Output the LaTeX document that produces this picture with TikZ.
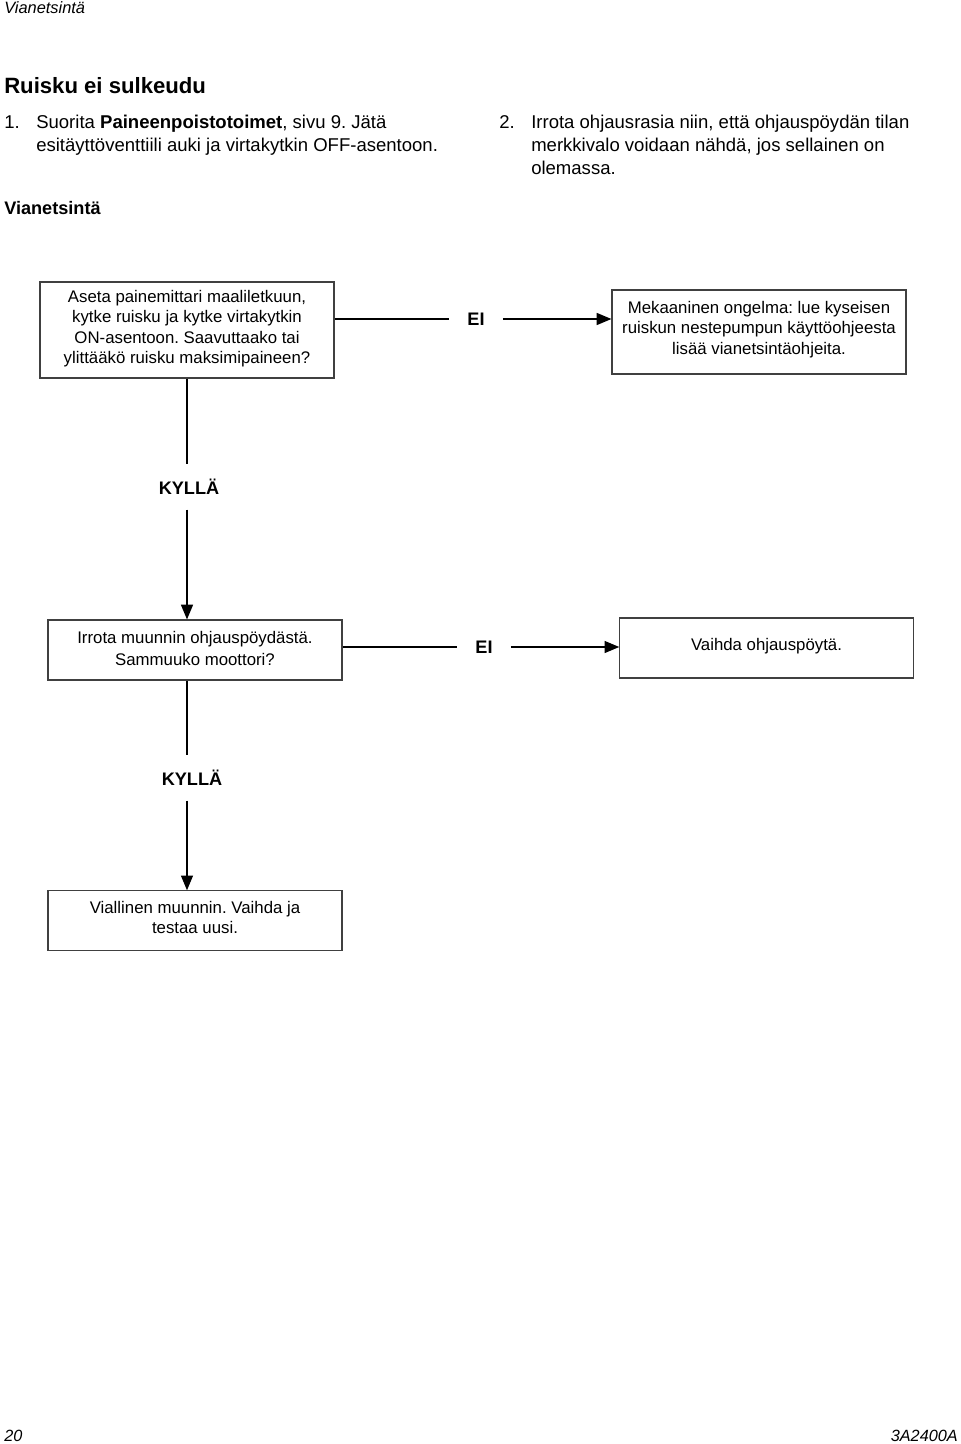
\documentclass[tikz,border=0pt]{standalone}
\usepackage{fontspec}
\setmainfont{Liberation Sans}
\usetikzlibrary{arrows.meta}
\frenchspacing
\begin{document}
\begin{tikzpicture}[x=0.75pt,y=-0.75pt,
  box/.style={draw=black!75, line width=0.9pt, align=center, font=\fontsize{12.6}{15.4}\selectfont, inner sep=0pt},
  conn/.style={line width=0.9pt, black},
  arr/.style={conn, -{Triangle[length=11pt,width=9pt]}},
  lab/.style={font=\fontsize{13.6}{15}\selectfont\bfseries, inner xsep=13.5pt, inner ysep=11pt},
  body/.style={font=\fontsize{13.9}{17.25}\selectfont, align=left, inner sep=0pt, anchor=base west}]
\useasboundingbox (0,0) rectangle (960,1444);

% header / footer
\node[anchor=base west, inner sep=0pt, font=\fontsize{12.3}{14}\selectfont\itshape] (hdr) at (4,14) {Vianetsintä};
\node[anchor=base west, inner sep=0pt, font=\fontsize{12.2}{14}\selectfont\itshape] (pg) at (4,1441) {20};
\node[anchor=base east, inner sep=0pt, font=\fontsize{12.2}{14}\selectfont\itshape] (doc) at (958,1441) {3A2400A};

% title and instructions
\node[anchor=base west, inner sep=0pt, font=\fontsize{16.6}{18}\selectfont\bfseries] (title) at (4,94) {Ruisku ei sulkeudu};
\node[body] (n1) at (4,128.5) {1.};
\node[body, anchor=north west] (t1) at (36,115) {Suorita \textbf{Paineenpoistotoimet}, sivu 9. Jätä\\esitäyttöventtiili auki ja virtakytkin OFF-asentoon.};
\node[body] (n2) at (499,128.5) {2.};
\node[body, anchor=north west] (t2) at (531,115) {Irrota ohjausrasia niin, että ohjauspöydän tilan\\merkkivalo voidaan nähdä, jos sellainen on\\olemassa.};
\node[anchor=base west, inner sep=0pt, font=\fontsize{13.6}{16}\selectfont\bfseries] (sub) at (4,215) {Vianetsintä};

% boxes
\node[box, minimum width=220.5pt, minimum height=72pt, text depth=4.9pt] (b1) at (187,330) {Aseta painemittari maaliletkuun,\\kytke ruisku ja kytke virtakytkin\\ON-asentoon. Saavuttaako tai\\ylittääkö ruisku maksimipaineen?};
\node[box, minimum width=220.5pt, minimum height=63pt, text depth=6.4pt] (b2) at (759,332) {Mekaaninen ongelma: lue kyseisen\\ruiskun nestepumpun käyttöohjeesta\\lisää vianetsintäohjeita.};
\node[box, minimum width=220.5pt, minimum height=45pt, text depth=2.3pt, font=\fontsize{12.6}{17}\selectfont] (b3) at (195,650) {Irrota muunnin ohjauspöydästä.\\Sammuuko moottori?};
\node[box, minimum width=220pt, minimum height=45pt, text depth=5.6pt] (b4) at (766.5,648) {Vaihda ohjauspöytä.};
\node[box, minimum width=220.5pt, minimum height=44.5pt, text depth=4.5pt] (b5) at (195,920.5) {Viallinen muunnin. Vaihda ja\\testaa uusi.};

% labels
\node[lab] (ei1) at (476,319) {EI};
\node[lab] (ei2) at (484,647) {EI};
\node[lab] (k1) at (189,487) {KYLLÄ};
\node[lab] (k2) at (192,778) {KYLLÄ};

% connectors
\draw[conn] (b1.east |- ei1) -- (ei1.west);
\draw[arr] (ei1.east) -- (b2.west |- ei1);
\draw[conn] (b3.east |- ei2) -- (ei2.west);
\draw[arr] (ei2.east) -- (b4.west |- ei2);
\draw[conn] (b1.south) -- (b1.south |- k1.north);
\draw[arr] (b1.south |- k1.south) -- (b1.south |- b3.north);
\draw[conn] (b1.south |- b3.south) -- (b1.south |- k2.north);
\draw[arr] (b1.south |- k2.south) -- (b1.south |- b5.north);
\end{tikzpicture}
\end{document}
